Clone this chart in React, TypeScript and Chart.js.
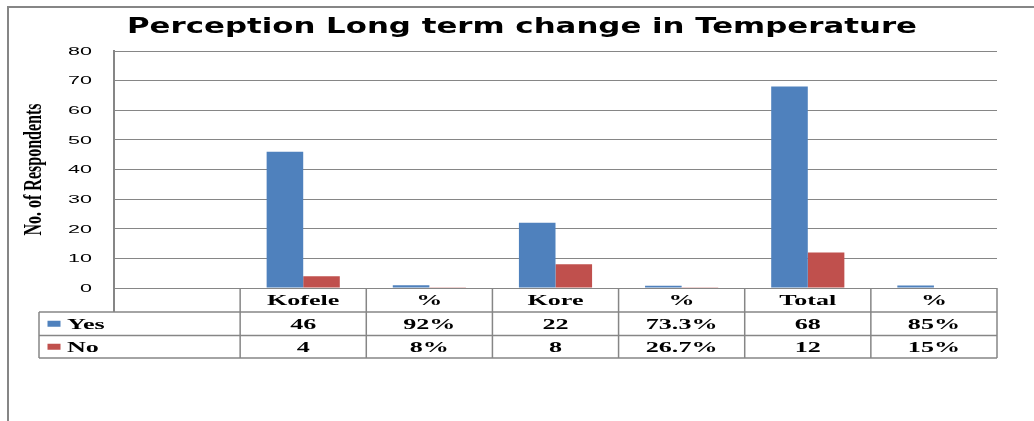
import React, { useEffect, useRef } from "react";
import { Chart, registerables } from "chart.js";

Chart.register(...registerables);

const chartTitle = "Perception Long term change in Temperature";
const yAxisTitle = "No. of Respondents";
const categories = ["", "Kofele", "%", "Kore", "%", "Total", "%"];
const seriesNames = ["Yes", "No"];
const yesValues = [null, 46, 0.92, 22, 0.733, 68, 0.85];
const noValues = [null, 4, 0.08, 8, 0.267, 12, 0.15];
const yTickValues = [0, 10, 20, 30, 40, 50, 60, 70, 80];
const seriesColors = ["#4F81BD", "#C0504D"];

const GRID = "#868686";
const TABLE_FONT = "bold 15px 'Liberation Serif'";
const TABLE_SX = 1.74;

function stretchedText(
  ctx: CanvasRenderingContext2D,
  text: string,
  x: number,
  y: number,
  font: string,
  sx: number,
  align: CanvasTextAlign,
  baseline: CanvasTextBaseline
) {
  ctx.save();
  ctx.font = font;
  ctx.textAlign = align;
  ctx.textBaseline = baseline;
  ctx.fillStyle = "#000";
  ctx.translate(x, y);
  ctx.scale(sx, 1);
  ctx.fillText(text, 0, 0);
  ctx.restore();
}

function formatCell(cat: string, v: number | null) {
  if (v === null) return "";
  if (cat === "%") return `${+(v * 100).toFixed(1)}%`;
  return String(v);
}

const decorPlugin = {
  id: "decor",
  beforeDraw(chart: any) {
    const ctx: CanvasRenderingContext2D = chart.ctx;
    ctx.save();
    ctx.fillStyle = "#fff";
    ctx.fillRect(0, 0, chart.width, chart.height);
    ctx.strokeStyle = GRID;
    ctx.lineWidth = 2;
    ctx.beginPath();
    ctx.moveTo(8, chart.height);
    ctx.lineTo(8, 7);
    ctx.lineTo(chart.width, 7);
    ctx.stroke();
    ctx.restore();
  },
  afterDraw(chart: any) {
    const ctx: CanvasRenderingContext2D = chart.ctx;
    const xs = chart.scales.x;
    const ys = chart.scales.y;
    const area = chart.chartArea;

    // Title
    ctx.save();
    const tFont = "bold 22px 'DejaVu Sans'";
    ctx.font = tFont;
    const tw = ctx.measureText(chartTitle).width;
    ctx.restore();
    stretchedText(ctx, chartTitle, 522, 33, tFont, 790 / tw, "center", "alphabetic");

    // Y axis title (rotated, stretched across)
    ctx.save();
    ctx.font = "bold 16px 'Liberation Serif'";
    ctx.fillStyle = "#000";
    ctx.textAlign = "center";
    ctx.textBaseline = "middle";
    ctx.translate(34, (area.top + area.bottom) / 2);
    ctx.rotate(-Math.PI / 2);
    ctx.scale(1, 1.6);
    ctx.fillText(yAxisTitle, 0, 0);
    ctx.restore();

    // Y tick labels
    yTickValues.forEach((v) => {
      stretchedText(ctx, String(v), 92, ys.getPixelForValue(v) + 1, "10px 'Liberation Sans'", 2.15, "right", "middle");
    });

    // Data table
    const n = categories.length;
    const cw = (area.right - area.left) / n;
    const r0 = area.bottom;
    const r1 = 312;
    const r2 = 335.5;
    const r3 = 358;
    const leftT = 39;

    ctx.save();
    ctx.strokeStyle = GRID;
    ctx.lineWidth = 1.5;
    ctx.beginPath();
    [r1, r2, r3].forEach((y) => {
      ctx.moveTo(leftT, y);
      ctx.lineTo(area.right, y);
    });
    ctx.moveTo(leftT, r1);
    ctx.lineTo(leftT, r3);
    for (let i = 1; i <= n; i++) {
      const x = xs.getPixelForValue(i) - cw / 2;
      ctx.moveTo(x, r0);
      ctx.lineTo(x, r3);
    }
    ctx.stroke();
    ctx.lineWidth = 2;
    ctx.beginPath();
    ctx.moveTo(area.left, r0);
    ctx.lineTo(area.left, r1);
    ctx.stroke();
    ctx.restore();

    const rowsY = [(r0 + r1) / 2 + 1, (r1 + r2) / 2 + 1, (r2 + r3) / 2 + 1];
    categories.forEach((c, i) => {
      if (!c) return;
      const cx = xs.getPixelForValue(i);
      stretchedText(ctx, c, cx, rowsY[0], TABLE_FONT, TABLE_SX, "center", "middle");
      stretchedText(ctx, formatCell(c, yesValues[i]), cx, rowsY[1], TABLE_FONT, TABLE_SX, "center", "middle");
      stretchedText(ctx, formatCell(c, noValues[i]), cx, rowsY[2], TABLE_FONT, TABLE_SX, "center", "middle");
    });

    // Legend keys in table
    seriesNames.forEach((s, k) => {
      const cy = rowsY[k + 1];
      ctx.save();
      ctx.fillStyle = seriesColors[k];
      ctx.fillRect(47.5, cy - 4, 13, 6);
      ctx.restore();
      stretchedText(ctx, s, 67, cy, TABLE_FONT, TABLE_SX, "left", "middle");
    });
  },
};

export default function App() {
  const ref = useRef<HTMLCanvasElement | null>(null);
  useEffect(() => {
    if (!ref.current) return;
    const chart = new Chart(ref.current, {
      type: "bar",
      data: {
        labels: categories,
        datasets: [
          {
            label: seriesNames[0],
            data: yesValues as any,
            backgroundColor: seriesColors[0],
            borderWidth: 0,
          },
          {
            label: seriesNames[1],
            data: noValues as any,
            backgroundColor: seriesColors[1],
            borderWidth: 0,
          },
        ],
      },
      options: {
        responsive: false,
        animation: false,
        devicePixelRatio: 1,
        layout: { padding: { top: 51, right: 37, left: 0, bottom: 0 } },
        datasets: { bar: { categoryPercentage: 0.58, barPercentage: 1 } },
        plugins: {
          legend: { display: false },
          title: { display: false },
          tooltip: { enabled: false },
        },
        scales: {
          x: {
            type: "category",
            grid: { display: false },
            border: { display: false },
            ticks: { display: false },
            afterFit: (s: any) => {
              s.height = 133;
            },
          },
          y: {
            min: 0,
            max: 80,
            ticks: { display: false, stepSize: 10 },
            grid: { color: GRID, lineWidth: 1, drawTicks: false },
            border: { display: true, color: GRID, width: 2 },
            afterFit: (s: any) => {
              s.width = 114;
            },
          },
        },
      },
      plugins: [decorPlugin],
    } as any);
    return () => chart.destroy();
  }, []);
  return (
    <div style={{ position: "absolute", left: 0, top: 0, width: 1034, height: 421 }}>
      <canvas ref={ref} width={1034} height={421} style={{ width: 1034, height: 421, display: "block" }} />
    </div>
  );
}
